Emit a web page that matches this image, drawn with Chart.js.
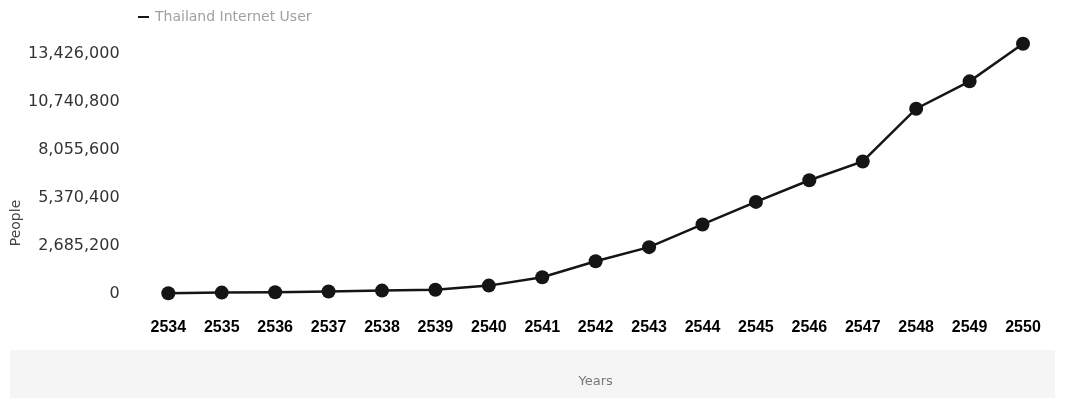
<!DOCTYPE html>
<html>
<head>
<meta charset="utf-8">
<script src="https://cdn.jsdelivr.net/npm/chart.js@4"></script>
<style>
  html, body { margin: 0; padding: 0; background: #fff; }
  #wrap { width: 1065px; height: 398px; }
</style>
</head>
<body>
<div id="wrap"><canvas id="myChart"></canvas></div>
<script>
const ctx = document.getElementById('myChart');

// Data
const years = ["2534", "2535", "2536", "2537", "2538", "2539", "2540", "2541", "2542",
               "2543", "2544", "2545", "2546", "2547", "2548", "2549", "2550"];
const users = [50000, 90000, 110000, 150000, 200000, 250000, 480000, 950000, 1840000,
               2630000, 3900000, 5160000, 6370000, 7420000, 10370000, 11900000, 14000000];
const yTicks = [0, 2685200, 5370400, 8055600, 10740800, 13426000];
const seriesLabel = "Thailand Internet User";
const xTitle = "Years";
const yTitle = "People";

// light band behind the x title, rotated y title and the small legend that overlaps the plot
const extras = {
    id: 'extras',
    beforeDraw(chart) {
        const c = chart.ctx;
        c.save();
        c.fillStyle = '#f5f5f5';
        c.fillRect(10, chart.height - 48, chart.width - 20, 48);
        c.restore();
    },
    afterDraw(chart) {
        const c = chart.ctx;
        const ds = chart.data.datasets[0];
        c.save();
        // legend entry
        c.fillStyle = ds.borderColor;
        c.fillRect(138, 16, 11, 2);
        c.font = '14px "DejaVu Sans"';
        c.fillStyle = '#a0a0a0';
        c.textBaseline = 'middle';
        c.fillText(ds.label, 155, 17);
        // y title
        c.translate(16, 223);
        c.rotate(-Math.PI / 2);
        c.fillStyle = '#444';
        c.textAlign = 'center';
        c.fillText(yTitle, 0, 0);
        c.restore();
    }
};

new Chart(ctx, {
    type: 'line',
    data: {
        labels: years,
        datasets: [{
            label: seriesLabel,
            data: users,
            borderColor: '#151515',
            backgroundColor: '#151515',
            borderWidth: 2.5,
            pointRadius: 7,
            pointHoverRadius: 7,
            pointBackgroundColor: '#151515',
            pointBorderWidth: 0,
            tension: 0,
            clip: false
        }]
    },
    options: {
        responsive: true,
        maintainAspectRatio: false,
        animation: false,
        layout: { padding: { left: 6, right: -4, top: 4, bottom: 4 } },
        plugins: {
            legend: { display: false },
            tooltip: { enabled: false }
        },
        scales: {
            x: {
                offset: true,
                grid: { display: false, drawTicks: false },
                border: { display: false },
                ticks: {
                    padding: 24,
                    color: '#000',
                    font: { family: '"Liberation Sans"', size: 16, weight: 'bold' },
                    maxRotation: 0,
                    autoSkip: false
                },
                title: {
                    display: true,
                    text: xTitle,
                    color: '#777',
                    font: { family: '"DejaVu Sans"', size: 13 },
                    padding: { top: 12, bottom: 5 }
                }
            },
            y: {
                min: 0,
                max: 14680000,
                grid: { display: false, drawTicks: false },
                border: { display: false },
                afterBuildTicks: (axis) => {
                    axis.ticks = yTicks.map(v => ({ value: v }));
                },
                ticks: {
                    padding: 22,
                    color: '#333',
                    font: { family: '"DejaVu Sans"', size: 16 },
                    callback: (v) => v.toLocaleString('en-US')
                }
            }
        }
    },
    plugins: [extras]
});
</script>
</body>
</html>
